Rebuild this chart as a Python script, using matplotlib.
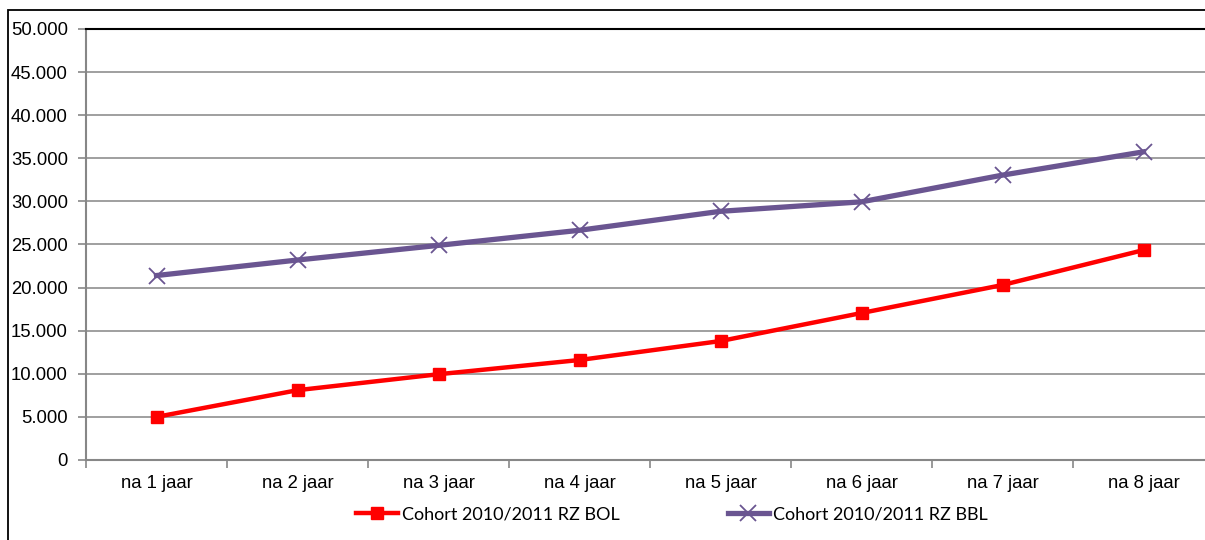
import matplotlib
matplotlib.use("Agg")
import matplotlib.pyplot as plt
from matplotlib.ticker import FuncFormatter
from matplotlib.patches import Rectangle

categories = ["na 1 jaar", "na 2 jaar", "na 3 jaar", "na 4 jaar",
              "na 5 jaar", "na 6 jaar", "na 7 jaar", "na 8 jaar"]
bol = [5000, 8100, 9950, 11600, 13800, 17050, 20300, 24350]
bbl = [21400, 23200, 24900, 26650, 28850, 29950, 33050, 35750]
series_names = ["Cohort 2010/2011 RZ BOL", "Cohort 2010/2011 RZ BBL"]
yticks = list(range(0, 50001, 5000))

plt.rcParams["font.family"] = ["Liberation Sans", "DejaVu Sans"]

W, H = 1205, 540
fig = plt.figure(figsize=(W / 100, H / 100), dpi=100)
fig.patches.append(Rectangle((8 / W, -0.1), 1.2, 1 - 10 / H + 0.1,
                             transform=fig.transFigure, fill=False,
                             edgecolor="black", linewidth=1.3))

left, right, top, bottom = 86, 1214, 29, 460
ax = fig.add_axes([left / W, 1 - bottom / H, (right - left) / W, (bottom - top) / H])

x = list(range(len(categories)))
ax.plot(x, bol, color="#FF0000", linewidth=3.2, marker="s", markersize=8,
        label=series_names[0], zorder=3)
ax.plot(x, bbl, color="#6A5591", linewidth=3.8, marker="x", markersize=11,
        markeredgewidth=1.3, label=series_names[1], zorder=3)

ax.set_xlim(-0.5, len(categories) - 0.5)
ax.set_ylim(0, 50000)
ax.set_yticks(yticks)
ax.yaxis.set_major_formatter(FuncFormatter(lambda v, p: "0" if v == 0 else f"{int(v):,}".replace(",", ".")))
ax.set_xticks(x)
ax.set_xticklabels(categories)
ax.set_xticks([i - 0.5 for i in range(len(categories) + 1)], minor=True)
ax.tick_params(axis="x", which="major", length=0, pad=11, labelsize=13.3)
ax.tick_params(axis="x", which="minor", length=6, color="#878787", width=1.2)
ax.tick_params(axis="y", length=6, color="#878787", width=1.2, labelsize=13.3, pad=7)

ax.grid(axis="y", color="#979797", linewidth=1.3)
ax.set_axisbelow(True)
for s in ["left", "bottom"]:
    ax.spines[s].set_color("#878787")
    ax.spines[s].set_linewidth(1.5)
ax.spines["top"].set_color("black")
ax.spines["top"].set_linewidth(1.5)
ax.spines["right"].set_visible(False)

leg = fig.legend(loc="center", bbox_to_anchor=(672 / W, 1 - 514 / H), ncol=2,
                 frameon=False, columnspacing=6.0, handlelength=2.3,
                 handletextpad=0.2, prop={"family": ["Lato", "DejaVu Sans"], "size": 13})

fig.savefig("out.png", dpi=100)
